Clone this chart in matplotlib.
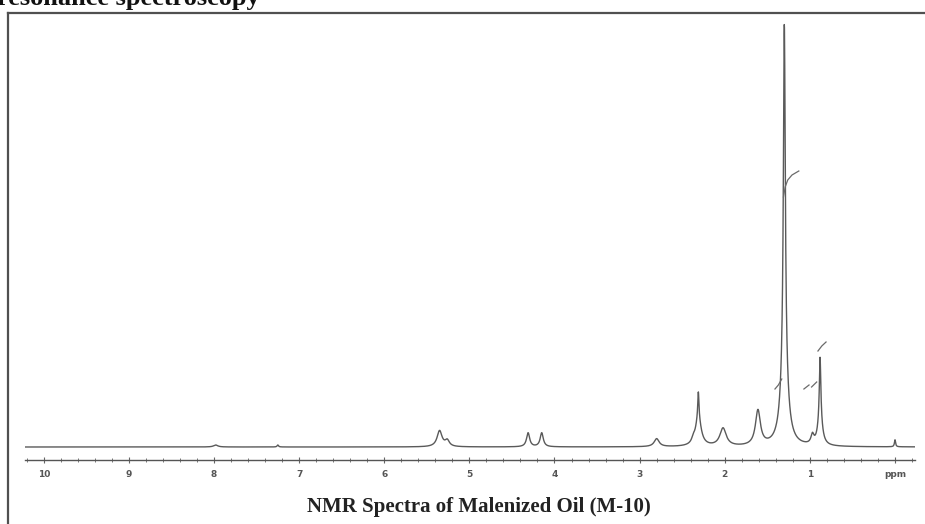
import numpy as np
import matplotlib
matplotlib.use("Agg")
import matplotlib.pyplot as plt
from matplotlib.lines import Line2D

# ---- data ----
# peaks: chemical shift (ppm), height (px above baseline), half width (ppm)
peak_ppm    = [7.98, 7.25, 5.35, 5.26, 4.31, 4.15, 2.80, 2.31, 2.31, 2.37, 2.02, 1.61, 1.30, 1.30, 0.97, 0.88, 0.88, 0.0]
peak_height = [2,    2,    16,   6,    14,   14,   8,    26,   28,   4,    18,   35,   340,  82,   9,    60,   28,   7]
peak_width  = [0.03, 0.01, 0.035,0.03, 0.022,0.022,0.035,0.008,0.04, 0.02, 0.045,0.035,0.013,0.045,0.02, 0.01, 0.03, 0.008]

# integral traces (ppm, height)
integral_1_ppm = [1.31, 1.29, 1.26, 1.21, 1.13]
integral_1_val = [250, 260, 267, 272, 276]
integral_2_ppm = [1.41, 1.37, 1.33]
integral_2_val = [58, 62, 68]
integral_3_ppm = [1.07, 1.01]
integral_3_val = [58, 62]
integral_4_ppm = [0.98, 0.92]
integral_4_val = [60, 65]
integral_5_ppm = [0.905, 0.86, 0.81]
integral_5_val = [96, 101, 105]

tick_pos = [10, 9, 8, 7, 6, 5, 4, 3, 2, 1, 0]
tick_labels = ["10", "9", "8", "7", "6", "5", "4", "3", "2", "1", "ppm"]

title = "NMR Spectra of Malenized Oil (M-10)"
header = "resonance spectroscopy"

# ---- figure ----
W, H = 925, 524
fig = plt.figure(figsize=(W / 100, H / 100), dpi=100)

def fx(px):
    return px / W

def fy(py):
    return 1 - py / H

ax = fig.add_axes([fx(25), fy(460), fx(915) - fx(25), fy(20) - fy(460)])
ax.set_xlim(10.22, -0.235)
ax.set_ylim(-13, 427)

ppm = np.linspace(10.22, -0.235, 6000)
spec = np.zeros_like(ppm)
for c, h, w in zip(peak_ppm, peak_height, peak_width):
    spec += h / (1 + ((ppm - c) / w) ** 2)

ax.plot(ppm, spec, color="#5a5a5a", lw=1.0)
for xs, ys in [(integral_1_ppm, integral_1_val), (integral_2_ppm, integral_2_val),
               (integral_3_ppm, integral_3_val), (integral_4_ppm, integral_4_val),
               (integral_5_ppm, integral_5_val)]:
    ax.plot(xs, ys, color="#6a6a6a", lw=0.9)

for s in ["top", "left", "right"]:
    ax.spines[s].set_visible(False)
ax.spines["bottom"].set_color("#555555")
ax.spines["bottom"].set_linewidth(1.0)
ax.set_yticks([])
ax.set_xticks(tick_pos)
ax.set_xticklabels(tick_labels, fontsize=6.5, fontweight="bold", color="#555555")
ax.set_xticks(np.arange(-0.2, 10.21, 0.2), minor=True)
ax.tick_params(axis="x", which="major", direction="inout", length=4, width=0.8, color="#666666", pad=5)
ax.tick_params(axis="x", which="minor", direction="inout", length=3, width=0.7, color="#777777")
ax.patch.set_alpha(0)

# frame
fig.add_artist(Line2D([fx(8), 1.0], [fy(13), fy(13)], color="#505050", lw=1.6))
fig.add_artist(Line2D([fx(8), fx(8)], [fy(13), 0.0], color="#505050", lw=1.6))

# texts
fig.text(fx(479), fy(507), title, ha="center", va="center", fontsize=15,
         fontweight="bold", family="Liberation Serif", color="#222222")
fig.text(fx(-3), fy(5), header, ha="left", va="baseline", fontsize=19,
         fontweight="bold", family="Liberation Serif", color="#111111")

fig.savefig("out.png", dpi=100)
